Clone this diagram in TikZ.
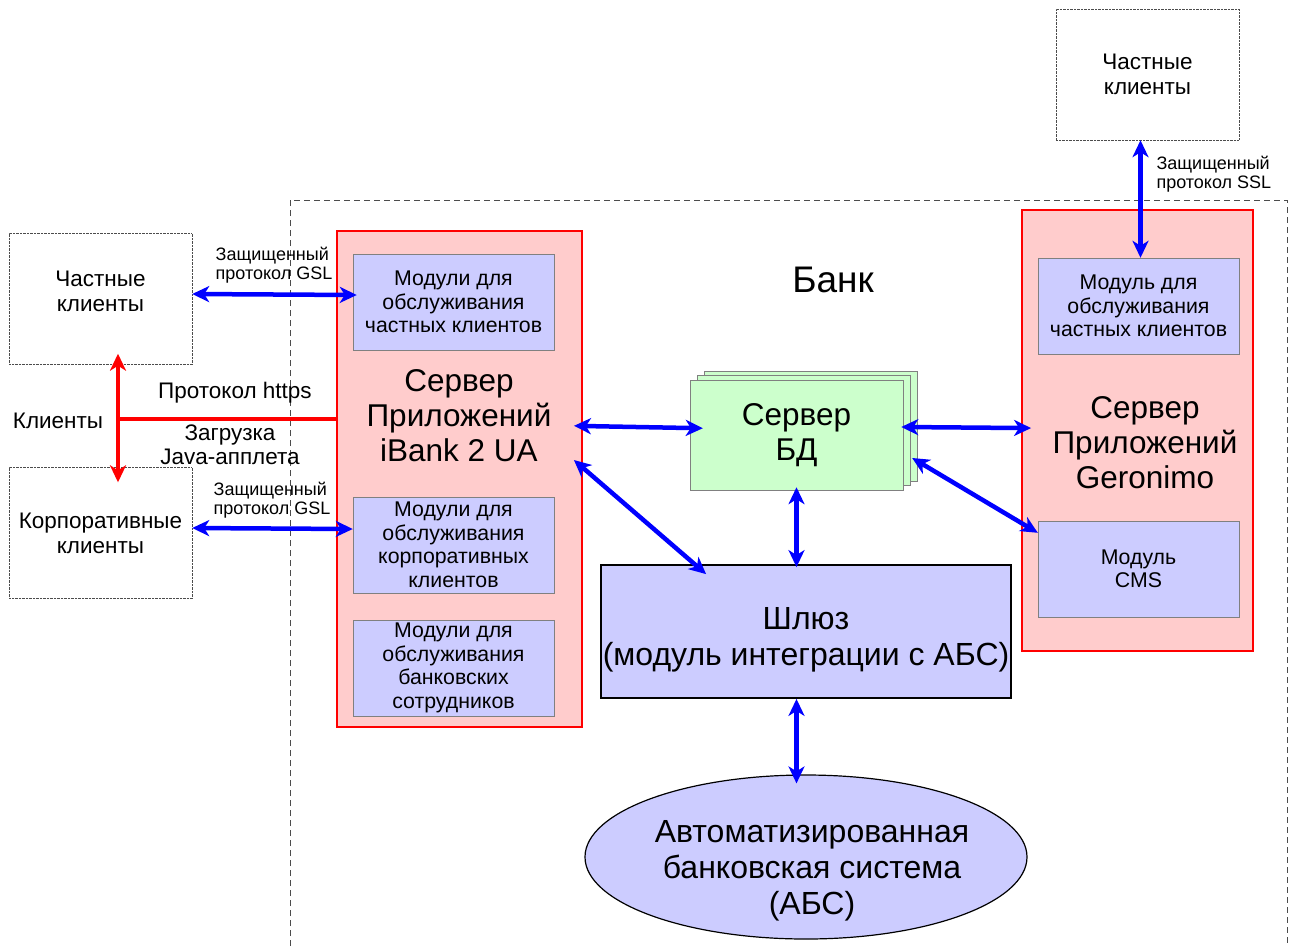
\documentclass[tikz,border=0pt]{standalone}
\usepackage{fontspec}
\setmainfont{Liberation Sans}
\usetikzlibrary{shapes.geometric,arrows.meta,shadows,calc}
\definecolor{modfill}{RGB}{204,204,255}
\definecolor{srvfill}{RGB}{255,204,204}
\definecolor{dbfill}{RGB}{204,255,204}
\tikzset{
	client/.style={draw=black!70, densely dotted, minimum width=183pt, minimum height=131pt, align=center, font=\fontsize{22.5}{25}\selectfont},
	server/.style={draw=red, line width=1.8pt, fill=srvfill, inner sep=0pt},
	module/.style={draw=gray, fill=modfill, minimum width=201pt, minimum height=96pt, align=center, font=\fontsize{21.3}{23.5}\selectfont},
	bigtext/.style={align=center, font=\fontsize{31.5}{35}\selectfont},
	hugetext/.style={align=center, font=\fontsize{32}{36}\selectfont},
	smalltext/.style={align=left, font=\fontsize{18}{19.5}\selectfont},
	midtext/.style={align=center, font=\fontsize{22.5}{24}\selectfont},
	link/.style={draw=blue, line width=4.5pt, {Stealth[length=17pt,width=16pt,inset=5pt]}-{Stealth[length=17pt,width=16pt,inset=5pt]}},
	redlink/.style={draw=red, line width=4.5pt, {Stealth[length=17pt,width=16pt,inset=5pt]}-{Stealth[length=17pt,width=16pt,inset=5pt]}}
}
\begin{document}
\begin{tikzpicture}[x=1pt,y=-1pt]
	\useasboundingbox (0,0) rectangle (1293,946);
	\draw[gray!60!black, dash pattern=on 6pt off 4pt, line width=0.9pt] (290,946) |- (1287,200) -- (1287,946);
	\node[font=\fontsize{37}{42}\selectfont] (bank) at (833,280) {Банк};
	\node[client] (pc) at (100.5,299) {};
	\node[client, draw=none] (pctext) at (100.5,291) {Частные\\клиенты};
	\node[client] (cc) at (100.5,533) {Корпоративные\\клиенты};
	\node[client] (pc2) at (1147.5,74.5) {Частные\\клиенты};
	\node[server, minimum width=245pt, minimum height=496pt] (ibank) at (459.5,479) {};
	\node[bigtext] (ibanktitle) at (459,416) {Сервер\\Приложений\\iBank 2 UA};
	\node[module] (m1) at (453.5,302) {Модули для\\обслуживания\\частных клиентов};
	\node[module] (m2) at (453.5,545) {Модули для\\обслуживания\\корпоративных\\клиентов};
	\node[module] (m3) at (453.5,668) {Модули для\\обслуживания\\банковских\\сотрудников};
	\node[server, minimum width=231pt, minimum height=441pt] (geronimo) at (1137.5,430.5) {};
	\node[bigtext] (gertitle) at (1145,443) {Сервер\\Приложений\\Geronimo};
	\node[module] (m4) at (1138.5,306) {Модуль для\\обслуживания\\частных клиентов};
	\node[module] (m5) at (1138.5,569) {Модуль\\CMS};
	\node[draw=gray, fill=dbfill, minimum width=213pt, minimum height=110pt, double copy shadow={shadow xshift=7pt, shadow yshift=4.5pt, fill=dbfill, draw=gray}, bigtext] (db) at (796.5,435) {Сервер\\БД};
	\node[draw=black, line width=1.8pt, fill=modfill, minimum width=410pt, minimum height=133pt] (gw) at (806,631.5) {};
	\node[hugetext] (gwtext) at (806,640) {Шлюз\\(модуль интеграции с АБС)};
	\node[ellipse, draw=black, line width=1.2pt, fill=modfill, inner sep=0pt, minimum width=442pt, minimum height=164pt] (abs) at (806,857) {};
	\node[hugetext] (abstext) at (812,871) {Автоматизированная\\банковская система\\(АБС)};
	\draw[link] ($(pc.east)+(0,-5)$) -- ($(pc.east -| m1.west)+(4,-4)$);
	\node[smalltext] (gsl1) at (274,265) {Защищенный\\протокол GSL};
	\draw[link] ($(cc.east)+(0,-5)$) -- ($(cc.east -| m2.west)+(0,-4)$);
	\node[smalltext] (gsl2) at (272,500) {Защищенный\\протокол GSL};
	\draw[link, shorten <=-9pt, shorten >=-13pt] ($(ibank.east |- db.west)+(0,-9)$) -- ($(db.west)+(0,-7)$);
	\draw[link, shorten <=-2pt, shorten >=-10pt] ($(db.east)+(0,-8)$) -- ($(db.east -| geronimo.west)+(0,-7)$);
	\draw[link] ($(ibank.east)+(-9,-19)$) -- ($(gw.north west)+(106,10)$);
	\draw[link] ($(db.east)+(9,23)$) -- ($(m5.north west)+(0,12)$);
	\draw[link, shorten <=-3pt, shorten >=-3pt] (db.south) -- (db.south |- gw.north);
	\draw[link, shorten >=-9pt] (db.south |- gw.south) -- (db.south |- abs.north);
	\draw[link] ($(m4.north |- pc2.south)+(2,0)$) -- ($(m4.north)+(2,0)$);
	\node[smalltext, anchor=west] (ssl) at (1153,174) {Защищенный\\протокол SSL};
	\coordinate (fork) at (118,419);
	\draw[redlink, shorten <=-11pt, shorten >=-15pt] (fork |- pc.south) -- (fork |- cc.north);
	\draw[red, line width=4.5pt] (fork) -- (fork -| ibank.west);
	\node[midtext] (clients) at (58,421) {Клиенты};
	\node[midtext] (https) at (235,393) {Протокол https};
	\node[midtext] (java) at (230,445) {Загрузка\\Java-апплета};
\end{tikzpicture}
\end{document}
